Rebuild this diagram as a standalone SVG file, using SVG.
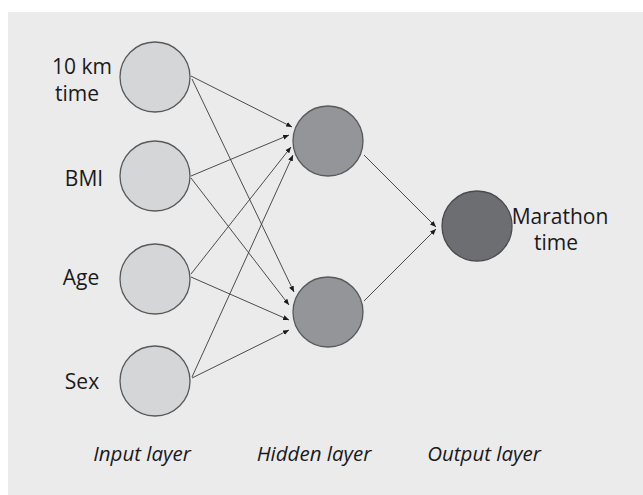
<svg xmlns="http://www.w3.org/2000/svg" width="643" height="495" viewBox="0 0 643 495">
<defs>
<style>
.in{fill:#d5d6d8;stroke:#58595b;stroke-width:1.3}
.hid{fill:#939598;stroke:#58595b;stroke-width:1.3}
.out{fill:#6d6e71;stroke:#4a4a4c;stroke-width:1.3}
.lbl{font-family:"Open Sans","Noto Sans",sans-serif;font-size:21px;fill:#1a1a1a;text-anchor:middle}
.cap{font-family:"Open Sans","Noto Sans",sans-serif;font-size:20.5px;font-style:italic;fill:#1a1a1a;text-anchor:middle}
.edge{stroke:#3a3a3a;stroke-width:0.9;fill:none;marker-end:url(#ah)}
</style>
<marker id="ah" markerUnits="userSpaceOnUse" markerWidth="8" markerHeight="6" refX="6" refY="3" orient="auto">
<path d="M0,0.5 L6,3 L0,5.5 Z" fill="#1a1a1a"/>
</marker>
</defs>
<rect x="8" y="12" width="635" height="483" fill="#ebebec"/>
<g id="connectors">
<line class="edge" x1="191" y1="76" x2="292" y2="127"/>
<line class="edge" x1="192" y1="79" x2="294" y2="292"/>
<line class="edge" x1="191" y1="176" x2="289" y2="135"/>
<line class="edge" x1="191" y1="178" x2="289" y2="305"/>
<line class="edge" x1="191" y1="274" x2="291" y2="147"/>
<line class="edge" x1="191" y1="277" x2="289" y2="320"/>
<line class="edge" x1="192" y1="377" x2="293" y2="155"/>
<line class="edge" x1="192" y1="378" x2="289" y2="330"/>
<line class="edge" x1="364" y1="155" x2="436" y2="227"/>
<line class="edge" x1="364" y1="301" x2="436" y2="229"/>
</g>
<g id="in1"><circle class="in" cx="155" cy="77" r="35"/><text class="lbl" x="82" y="74">10 km</text><text class="lbl" x="77" y="101">time</text></g>
<g id="in2"><circle class="in" cx="155" cy="176" r="35"/><text class="lbl" x="84" y="186">BMI</text></g>
<g id="in3"><circle class="in" cx="155" cy="279" r="35"/><text class="lbl" x="81" y="285">Age</text></g>
<g id="in4"><circle class="in" cx="155" cy="381" r="35"/><text class="lbl" x="82" y="389">Sex</text></g>
<g id="hid1"><circle class="hid" cx="328" cy="141" r="35"/></g>
<g id="hid2"><circle class="hid" cx="328" cy="312" r="35"/></g>
<g id="out"><circle class="out" cx="477" cy="226" r="35"/><text class="lbl" x="560" y="224">Marathon</text><text class="lbl" x="556" y="250">time</text></g>
<g id="captions">
<text class="cap" x="142" y="461">Input layer</text>
<text class="cap" x="314" y="461">Hidden layer</text>
<text class="cap" x="484" y="461">Output layer</text>
</g>
</svg>
